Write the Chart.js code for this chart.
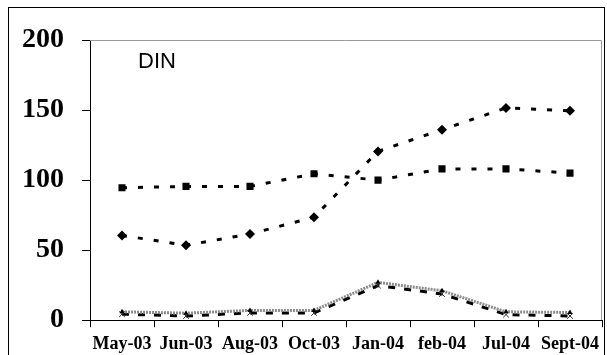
<!DOCTYPE html>
<html>
<head>
<meta charset="utf-8">
<script src="https://cdn.jsdelivr.net/npm/chart.js@4"></script>
<style>
  html, body { margin: 0; padding: 0; background: #fff; }
  #wrap { position: relative; width: 607px; height: 355px; overflow: hidden; }
  #frame { position: absolute; left: 8px; top: 7px; width: 597px; height: 400px; border: 1px solid #000; box-sizing: border-box; pointer-events: none; }
  canvas { position: absolute; left: 0; top: 0; }
</style>
</head>
<body>
<div id="wrap">
  <canvas id="dinChart" width="607" height="355"></canvas>
  <div id="frame"></div>
</div>
<script>
document.addEventListener('DOMContentLoaded', function () {

    // Data
    const months = ['May-03', 'Jun-03', 'Aug-03', 'Oct-03', 'Jan-04', 'feb-04', 'Jul-04', 'Sept-04'];
    const diamondSeries = [60.5, 53.5, 61.5, 73.5, 120.5, 136, 151.5, 149.5];
    const squareSeries = [94.5, 95.5, 95.5, 104.5, 100, 108, 108, 105];
    const triangleSeries = [6, 5, 7, 7, 27, 21, 6, 5.5];
    const crossSeries = [4.3, 3, 5.2, 5.2, 24.7, 18.7, 4, 3];
    const yTicks = [0, 50, 100, 150, 200];

    // plot frame (grey top/right lines) + "DIN" label
    const framePlugin = {
        id: 'framePlugin',
        afterDraw(chart) {
            const a = chart.chartArea;
            const ctx = chart.ctx;
            ctx.save();
            ctx.strokeStyle = '#9a9a9a';
            ctx.lineWidth = 1;
            ctx.beginPath();
            ctx.moveTo(a.left, a.top + 0.5);
            ctx.lineTo(a.right - 0.5, a.top + 0.5);
            ctx.lineTo(a.right - 0.5, a.bottom);
            ctx.stroke();
            ctx.fillStyle = '#000';
            ctx.font = '22px "Liberation Sans", Arial, sans-serif';
            ctx.textBaseline = 'middle';
            ctx.fillText('DIN', a.left + 48, a.top + 22);
            ctx.restore();
        }
    };

    const ctx = document.getElementById('dinChart').getContext('2d');
    new Chart(ctx, {
        type: 'line',
        data: {
            labels: months,
            datasets: [
                {
                    label: 'triangle',
                    data: triangleSeries,
                    borderColor: '#8c8c8c',
                    borderWidth: 3,
                    borderDash: [2, 1],
                    pointStyle: 'triangle',
                    pointRadius: 3,
                    pointBackgroundColor: '#000',
                    pointBorderColor: '#000',
                    pointBorderWidth: 0,
                    tension: 0
                },
                {
                    label: 'cross',
                    data: crossSeries,
                    borderColor: '#000',
                    borderWidth: 3,
                    borderDash: [7, 9],
                    pointStyle: 'crossRot',
                    pointRadius: 4,
                    pointBorderColor: '#333',
                    pointBorderWidth: 1,
                    tension: 0
                },
                {
                    label: 'square',
                    data: squareSeries,
                    borderColor: '#000',
                    borderWidth: 3,
                    borderDash: [5, 11],
                    pointStyle: 'rect',
                    pointRadius: 5,
                    pointBackgroundColor: '#000',
                    pointBorderColor: '#000',
                    pointBorderWidth: 0,
                    tension: 0
                },
                {
                    label: 'diamond',
                    data: diamondSeries,
                    borderColor: '#000',
                    borderWidth: 3,
                    borderDash: [5, 11],
                    pointStyle: 'rectRot',
                    pointRadius: 5,
                    pointBackgroundColor: '#000',
                    pointBorderColor: '#000',
                    pointBorderWidth: 0,
                    tension: 0
                }
            ]
        },
        options: {
            responsive: false,
            animation: false,
            layout: { padding: { top: 40, right: 2, left: 0, bottom: 0 } },
            plugins: {
                legend: { display: false },
                tooltip: { enabled: false }
            },
            scales: {
                x: {
                    offset: true,
                    grid: { offset: true, drawOnChartArea: false, tickLength: 7, color: '#000' },
                    border: { color: '#000', width: 1 },
                    ticks: {
                        color: '#000',
                        padding: 6,
                        maxRotation: 0,
                        autoSkip: false,
                        font: { family: '"Liberation Serif", "Times New Roman", serif', size: 18, weight: 'bold' }
                    },
                    afterFit(scale) { scale.height = 34; }
                },
                y: {
                    min: 0,
                    max: 200,
                    afterBuildTicks(scale) { scale.ticks = yTicks.map(v => ({ value: v })); },
                    grid: { drawOnChartArea: false, tickLength: 8, color: '#000' },
                    border: { color: '#000', width: 1 },
                    ticks: {
                        color: '#000',
                        padding: 18,
                        font: { family: '"Liberation Serif", "Times New Roman", serif', size: 28, weight: 'bold' }
                    },
                    afterFit(scale) { scale.width = 90; }
                }
            }
        },
        plugins: [framePlugin]
    });

});
</script>
</body>
</html>
